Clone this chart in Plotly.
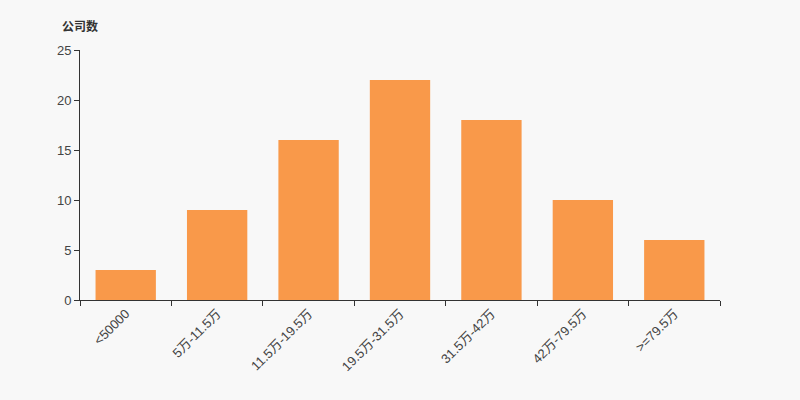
import plotly.graph_objects as go

categories = ["<50000", "5万-11.5万", "11.5万-19.5万", "19.5万-31.5万", "31.5万-42万", "42万-79.5万", ">=79.5万"]
values = [3, 9, 16, 22, 18, 10, 6]
y_ticks = [0, 5, 10, 15, 20, 25]

fig = go.Figure(go.Bar(x=categories, y=values, marker=dict(color="#f9994a", line=dict(width=0)), width=0.66))

FONT = "Liberation Sans, Arial, Noto Sans CJK SC, sans-serif"
fig.update_layout(
    width=800, height=400,
    paper_bgcolor="#f8f8f8", plot_bgcolor="#f8f8f8",
    margin=dict(l=80, r=80, t=50, b=100),
    font=dict(family=FONT, size=13, color="#333"),
    showlegend=False,
)
fig.update_xaxes(
    type="category", tickangle=-45, showline=True, linecolor="#333", linewidth=1,
    ticks="outside", tickson="boundaries", ticklen=5, tickcolor="#333",
    showgrid=False, tickfont=dict(family=FONT, size=13, color="#444"),
)
fig.update_yaxes(
    range=[0, 25], tickvals=y_ticks, showline=True, linecolor="#333", linewidth=1,
    ticks="outside", ticklen=5, tickcolor="#333", showgrid=False, zeroline=False,
    tickfont=dict(family=FONT, size=13, color="#444"),
)
fig.add_annotation(text="<b>公司数</b>", xref="paper", yref="paper", x=0.0, y=1.0, yshift=14,
                   xanchor="center", yanchor="bottom", showarrow=False,
                   font=dict(family="Noto Sans CJK SC, sans-serif", size=12, color="#333"))

fig.write_html("out.html", config={"displayModeBar": False})
with open("out.html", encoding="utf-8") as f:
    html = f.read()
html = html.replace("<body>", '<body style="margin:0;padding:0;background:#f8f8f8">', 1)
with open("out.html", "w", encoding="utf-8") as f:
    f.write(html)
